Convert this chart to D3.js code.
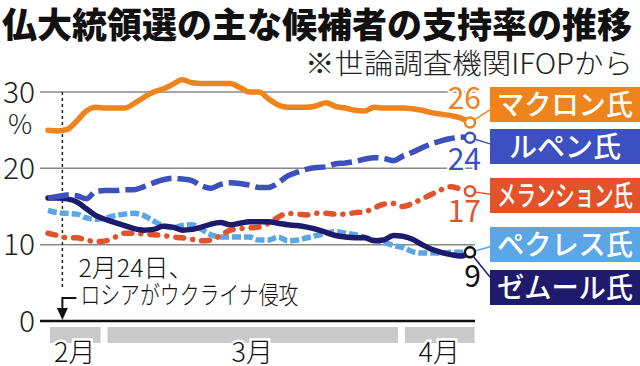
<!DOCTYPE html>
<html>
<head>
<meta charset="utf-8">
<script src="https://cdn.jsdelivr.net/npm/d3@7"></script>
<style>
  html, body { margin: 0; padding: 0; background: #fff; }
  svg { display: block; font-family: "Noto Sans CJK JP", "Noto Sans", sans-serif; }
</style>
</head>
<body>
<div id="chart"></div>
<script>
// poll dates (IFOP rolling), one value per day
const dates = [
  "2022-02-23","2022-02-24","2022-02-25","2022-02-26","2022-02-27","2022-02-28",
  "2022-03-01","2022-03-02","2022-03-03","2022-03-04","2022-03-05","2022-03-06","2022-03-07",
  "2022-03-08","2022-03-09","2022-03-10","2022-03-11","2022-03-12","2022-03-13","2022-03-14",
  "2022-03-15","2022-03-16","2022-03-17","2022-03-18","2022-03-19","2022-03-20","2022-03-21",
  "2022-03-22","2022-03-23","2022-03-24","2022-03-25","2022-03-26","2022-03-27","2022-03-28",
  "2022-03-29","2022-03-30","2022-03-31",
  "2022-04-01","2022-04-02","2022-04-03","2022-04-04","2022-04-05","2022-04-06","2022-04-07","2022-04-08"
];
const macron = [25.0,24.9,25.1,26.2,27.5,28.0, 27.9,27.9,27.9,28.5,29.3,30.0,30.4,
  31.0,31.6,31.2,31.1,31.1,31.1,31.1, 30.6,30.0,30.0,29.1,28.3,28.0,28.0,
  28.0,28.2,28.6,28.1,27.9,27.6,27.5, 28.0,27.9,27.9,
  27.9,27.8,27.6,27.3,27.1,26.9,26.6,26.0];
const lePen = [16.1,16.3,16.5,16.4,16.0,17.0, 17.1,17.1,17.2,17.2,17.6,18.1,18.5,
  18.7,18.6,18.4,17.7,17.4,17.9,18.1, 18.0,17.8,17.5,17.5,18.1,19.0,19.5,
  19.9,20.1,20.2,20.6,20.7,20.9,21.2, 21.4,21.3,21.0,
  21.6,22.1,22.7,23.2,23.6,23.9,24.1,24.0];
const melenchon = [11.5,11.2,10.9,10.9,10.6,10.4, 10.5,11.0,11.5,11.5,11.4,11.3,11.2,
  11.0,10.9,10.7,10.5,10.6,11.2,11.9, 12.1,12.2,12.3,12.8,13.6,14.1,14.0,
  13.9,14.1,14.1,14.0,14.0,14.2,14.3, 14.8,15.3,15.4,
  15.0,15.4,16.0,16.6,17.2,17.6,17.3,17.0];
const pecresse = [14.5,14.2,14.1,14.0,13.5,13.3, 13.5,13.8,14.0,14.1,13.8,13.1,12.5,
  12.2,12.5,12.6,12.0,11.3,11.0,11.0, 11.0,11.0,10.6,10.6,11.0,10.5,10.6,
  10.9,11.2,11.5,11.7,11.5,11.3,11.0, 10.6,10.3,9.9,
  9.6,9.1,8.9,8.9,8.9,9.0,9.0,9.0];
const zemmour = [16.1,16.1,16.0,15.6,14.7,13.8, 13.3,12.9,12.5,12.1,11.9,12.0,12.4,
  12.3,11.9,12.0,12.3,12.7,12.9,12.6, 12.8,13.0,13.0,13.0,12.8,12.6,12.5,
  12.3,12.0,11.6,11.2,11.0,10.9,10.9, 10.5,10.6,11.2,
  11.1,10.7,10.0,9.4,9.0,8.7,8.5,9.0];

const candidates = ["マクロン氏", "ルペン氏", "メランション氏", "ペクレス氏", "ゼムール氏"];
const latestLabels = ["26", "24", "17", "", "9"];
const yTicks = [0, 10, 20, 30];
const months = ["2月", "3月", "4月"];
const monthFrom = ["2022-02-23", "2022-03-01", "2022-04-01"];
const monthTo = ["2022-02-28", "2022-03-31", "2022-04-08"];
const eventDate = "2022-02-24T12:00";
const eventText = ["2月24日、", "ロシアがウクライナ侵攻"];

// styles
const colors = ["#f0841c", "#3c50bf", "#e3532b", "#5aa6e6", "#1f1b6c"];
const numColors = ["#f0841c", "#3c50bf", "#e3532b", "#5aa6e6", "#111"];
const dashes = [null, "21,6", "8,9,0.1,9", "9,3", null];
const caps = ["round", "butt", "round", "butt", "round"];
const drawOrder = [3, 2, 4, 1, 0];
const boxTop = [87, 129, 178, 227, 270];
const numOffset = [-14, 32, 31, 0, 35];

const series = [macron, lePen, melenchon, pecresse, zemmour];
const parse = s => new Date(s);

const width = 640, height = 366;
const svg = d3.select("#chart").append("svg")
  .attr("width", width)
  .attr("height", height);

const x = d3.scaleTime()
  .domain([parse(dates[0]), parse(dates[dates.length - 1])])
  .range([48, 470]);
const y = d3.scaleLinear().domain([0, 30]).range([321, 92]);

// title
svg.append("text")
  .attr("x", 2).attr("y", 38)
  .style("font-size", "35px").style("font-weight", 900).style("fill", "#111")
  .text("仏大統領選の主な候補者の支持率の推移");
svg.append("text")
  .attr("x", 633).attr("y", 74)
  .attr("text-anchor", "end")
  .attr("textLength", 328).attr("lengthAdjust", "spacingAndGlyphs")
  .style("font-size", "28px").style("font-weight", 300).style("fill", "#222")
  .text("※世論調査機関IFOPから");

// grid
svg.selectAll(".grid")
  .data(yTicks.filter(t => t > 0))
  .enter().append("line")
  .attr("class", "grid")
  .attr("x1", 40).attr("x2", 475)
  .attr("y1", d => y(d)).attr("y2", d => y(d))
  .style("stroke", "#8a8a8a").style("stroke-width", 1.5);

svg.selectAll(".ytick")
  .data(yTicks)
  .enter().append("text")
  .attr("class", "ytick")
  .attr("x", 35).attr("y", d => y(d))
  .attr("dy", "0.36em")
  .attr("text-anchor", "end")
  .style("font-size", "30px").style("font-weight", 300).style("fill", "#222")
  .text(d => d);
svg.append("text")
  .attr("x", 20).attr("y", y(30) + 42)
  .attr("text-anchor", "middle")
  .style("font-size", "27px").style("font-weight", 300).style("fill", "#222")
  .text("%");

// month bars
const dayAfter = s => d3.timeDay.offset(parse(s), 1);
svg.selectAll(".mbar")
  .data(months)
  .enter().append("rect")
  .attr("class", "mbar")
  .attr("x", (d, i) => x(parse(monthFrom[i])) + 2)
  .attr("width", (d, i) => x(dayAfter(monthTo[i])) - 5 - x(parse(monthFrom[i])) - 2)
  .attr("y", 327).attr("height", 16)
  .style("fill", "#c9c9c9");
svg.selectAll(".mlabel")
  .data(months)
  .enter().append("text")
  .attr("class", "mlabel")
  .attr("x", (d, i) => (x(parse(monthFrom[i])) + x(dayAfter(monthTo[i]))) / 2 - 2)
  .attr("y", 362)
  .attr("text-anchor", "middle")
  .style("font-size", "27px").style("font-weight", 300).style("fill", "#111")
  .style("stroke", "#fff").style("stroke-width", 5).style("paint-order", "stroke")
  .text(d => d);

// event annotation
const xe = x(parse(eventDate));
svg.append("line")
  .attr("x1", xe).attr("x2", xe).attr("y1", y(30)).attr("y2", 290)
  .style("stroke", "#222").style("stroke-width", 1.5).style("stroke-dasharray", "3,3");
svg.append("path")
  .attr("d", "M" + (xe + 14) + ",298H" + xe + "V310")
  .style("fill", "none").style("stroke", "#111").style("stroke-width", 2);
svg.append("path")
  .attr("d", "M" + (xe - 5.5) + ",308L" + (xe + 5.5) + ",308L" + xe + ",320Z")
  .style("fill", "#111");
svg.selectAll(".ev")
  .data(eventText)
  .enter().append("text")
  .attr("class", "ev")
  .attr("x", (d, i) => xe + 16 + i * 2)
  .attr("y", (d, i) => 277 + i * 27)
  .style("font-size", "25px").style("font-weight", 300).style("fill", "#111")
  .style("stroke", "#fff").style("stroke-width", 4).style("paint-order", "stroke")
  .each(function(d, i) { if (i === 1) d3.select(this).attr("textLength", 218).attr("lengthAdjust", "spacingAndGlyphs"); })
  .text(d => d);

// zero axis
svg.append("line")
  .attr("x1", 40).attr("x2", 475).attr("y1", y(0)).attr("y2", y(0))
  .style("stroke", "#111").style("stroke-width", 2.5);

// lines
const line = d3.line()
  .x((d, i) => x(parse(dates[i])))
  .y(d => y(d))
  .curve(d3.curveMonotoneX);

drawOrder.forEach(function(k) {
  svg.append("path")
    .datum(series[k])
    .attr("d", line)
    .style("fill", "none")
    .style("stroke", colors[k])
    .style("stroke-width", 5.5)
    .style("stroke-linecap", caps[k])
    .style("stroke-linejoin", "round")
    .style("stroke-dasharray", dashes[k]);
});

// end markers, connectors, numbers, name boxes
const xEnd = x(parse(dates[dates.length - 1]));
drawOrder.forEach(function(k) {
  let v = series[k][series[k].length - 1];
  let cy = y(v);
  let bc = boxTop[k] + 17.5;
  let ty = bc + (cy - bc) * 0.3;
  let ang = Math.atan2(ty - cy, 490 - xEnd);
  svg.append("line")
    .attr("x1", xEnd + 6 * Math.cos(ang)).attr("y1", cy + 6 * Math.sin(ang))
    .attr("x2", 490).attr("y2", ty)
    .style("stroke", colors[k]).style("stroke-width", 1.5);
  svg.append("circle")
    .attr("cx", xEnd).attr("cy", cy).attr("r", 5)
    .style("fill", "#fff")
    .style("stroke", k === 4 ? "#111" : colors[k])
    .style("stroke-width", 2.5);
  if (latestLabels[k]) {
    svg.append("text")
      .attr("x", 481).attr("y", cy + numOffset[k])
      .attr("text-anchor", "end")
      .style("font-size", "30px").style("fill", numColors[k])
      .style("stroke", "#fff").style("stroke-width", 4).style("paint-order", "stroke")
      .text(latestLabels[k]);
  }
});

candidates.forEach(function(name, k) {
  svg.append("rect")
    .attr("x", 490).attr("y", boxTop[k])
    .attr("width", 150).attr("height", 35)
    .style("fill", colors[k]);
  let t = svg.append("text")
    .attr("x", 565).attr("y", boxTop[k] + 28)
    .attr("text-anchor", "middle")
    .style("font-size", "28px").style("font-weight", 500).style("fill", "#fff")
    .text(name);
  if (t.node().getComputedTextLength() > 136) {
    t.attr("textLength", 136).attr("lengthAdjust", "spacingAndGlyphs");
  }
});
</script>
</body>
</html>
